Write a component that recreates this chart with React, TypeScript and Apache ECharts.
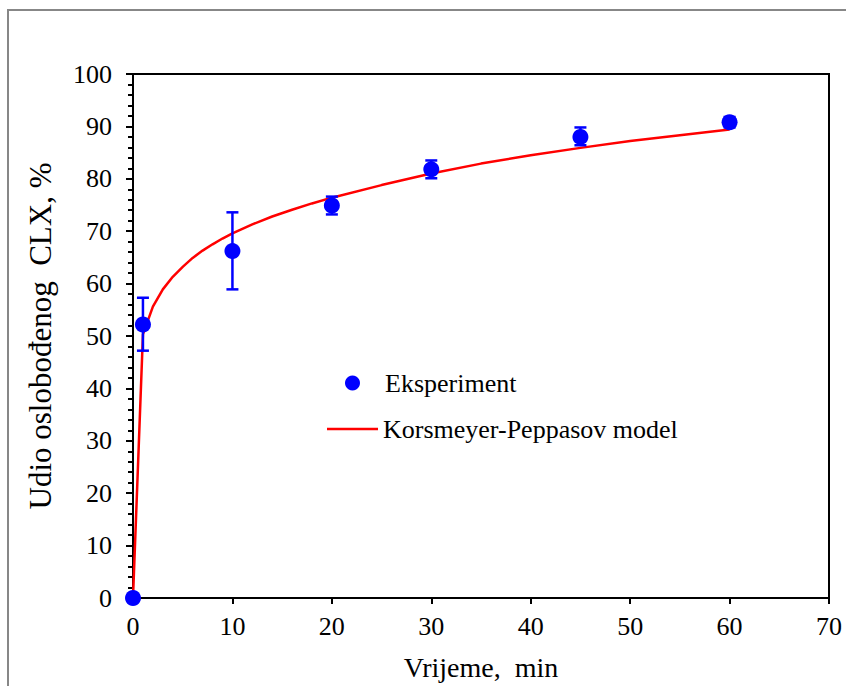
import React, { useEffect, useRef } from "react";
import * as echarts from "echarts";

const expTime = [0, 1, 10, 20, 30, 45, 60];
const expValue = [0, 52.2, 66.2, 74.9, 81.8, 88.0, 90.8];
const errLow = [0, 47.2, 58.9, 73.2, 80.1, 86.4, 89.8];
const errHigh = [0, 57.3, 73.6, 76.6, 83.5, 89.8, 91.8];

const modelTime = [0, 1, 2, 3, 4, 5, 6, 7, 8, 9, 10, 12, 14, 16, 18, 20, 25, 30, 35, 40, 45, 50, 55, 60];
const modelValue = [0, 50.3, 55.6, 58.9, 61.3, 63.2, 64.9, 66.3, 67.5, 68.6, 69.6, 71.3, 72.8, 74.1, 75.3, 76.4, 78.8, 81.0, 82.9, 84.5, 85.9, 87.2, 88.3, 89.4];

const xTicks = [0, 10, 20, 30, 40, 50, 60, 70];
const yTicks = [0, 10, 20, 30, 40, 50, 60, 70, 80, 90, 100];

const FONT = "Liberation Serif";

export default function App() {
  const ref = useRef<HTMLDivElement>(null);
  useEffect(() => {
    document.body.style.margin = "0";
    if (!ref.current) return;
    const chart = echarts.init(ref.current, null, { renderer: "svg" });
    const errData = expTime.map((t, i) => [t, errLow[i], errHigh[i]]).filter((d) => d[2] - d[1] > 0);
    const txt = { fontFamily: FONT, fontSize: 26, color: "#000" };
    chart.setOption({
      animation: false,
      backgroundColor: "#fff",
      textStyle: { fontFamily: FONT },
      graphic: [
        {
          type: "rect",
          shape: { x: 8, y: 10, width: 900, height: 800 },
          style: { fill: "none", stroke: "#878787", lineWidth: 2 },
          silent: true,
        },
      ],
      grid: {
        left: 133,
        right: 17,
        top: 74,
        bottom: 88,
        show: true,
        borderColor: "#000",
        borderWidth: 2,
        backgroundColor: "transparent",
      },
      legend: [
        {
          left: 340,
          top: 365,
          itemWidth: 51,
          itemHeight: 15,
          itemGap: 0,
          textStyle: { ...txt, padding: [0, 0, 0, 2] },
          data: [{ name: "Eksperiment", icon: "circle" }],
        },
        {
          left: 322,
          top: 411,
          itemWidth: 51,
          itemHeight: 2.5,
          itemGap: 0,
          textStyle: txt,
          data: [{ name: "Korsmeyer-Peppasov model", icon: "rect" }],
        },
      ],
      xAxis: {
        type: "value",
        min: xTicks[0],
        max: xTicks[xTicks.length - 1],
        interval: 10,
        name: "Vrijeme,  min",
        nameLocation: "middle",
        nameGap: 55,
        nameTextStyle: { ...txt, fontSize: 28 },
        axisLine: { show: true, onZero: false, lineStyle: { color: "#000", width: 2 } },
        axisTick: { show: true, inside: false, length: 6, lineStyle: { color: "#000", width: 2 } },
        axisLabel: { ...txt, margin: 15 },
        splitLine: { show: false },
      },
      yAxis: {
        type: "value",
        min: yTicks[0],
        max: yTicks[yTicks.length - 1],
        interval: 10,
        name: "Udio oslobođenog  CLX, %",
        nameLocation: "middle",
        nameGap: 77,
        nameTextStyle: { ...txt, fontSize: 31 },
        axisLine: { show: true, onZero: false, lineStyle: { color: "#000", width: 2 } },
        axisTick: { show: true, inside: false, length: 7, lineStyle: { color: "#000", width: 2 } },
        minorTick: { show: true, splitNumber: 5, length: 5, lineStyle: { color: "#000", width: 2 } },
        axisLabel: { ...txt, margin: 21 },
        splitLine: { show: false },
      },
      series: [
        {
          name: "Korsmeyer-Peppasov model",
          type: "line",
          data: modelTime.map((t, i) => [t, modelValue[i]]),
          symbol: "none",
          showSymbol: false,
          smooth: false,
          lineStyle: { color: "#ff0000", width: 2.5 },
          itemStyle: { color: "#ff0000" },
          z: 2,
        },
        {
          name: "errorbars",
          type: "custom",
          data: errData,
          encode: { x: 0, y: [1, 2] },
          renderItem: (params: any, api: any) => {
            const x = api.value(0);
            const lo = api.coord([x, api.value(1)]);
            const hi = api.coord([x, api.value(2)]);
            const w = 6;
            const style = { stroke: "#0000ff", lineWidth: 2.5 };
            return {
              type: "group",
              children: [
                { type: "line", shape: { x1: lo[0], y1: lo[1], x2: hi[0], y2: hi[1] }, style },
                { type: "line", shape: { x1: lo[0] - w, y1: lo[1], x2: lo[0] + w, y2: lo[1] }, style },
                { type: "line", shape: { x1: hi[0] - w, y1: hi[1], x2: hi[0] + w, y2: hi[1] }, style },
              ],
            };
          },
          z: 3,
        },
        {
          name: "Eksperiment",
          type: "scatter",
          data: expTime.map((t, i) => [t, expValue[i]]),
          symbol: "circle",
          symbolSize: 16,
          itemStyle: { color: "#0000ff", opacity: 1 },
          z: 4,
        },
      ],
    });
    return () => chart.dispose();
  }, []);
  return <div ref={ref} style={{ width: 846, height: 686 }} />;
}
